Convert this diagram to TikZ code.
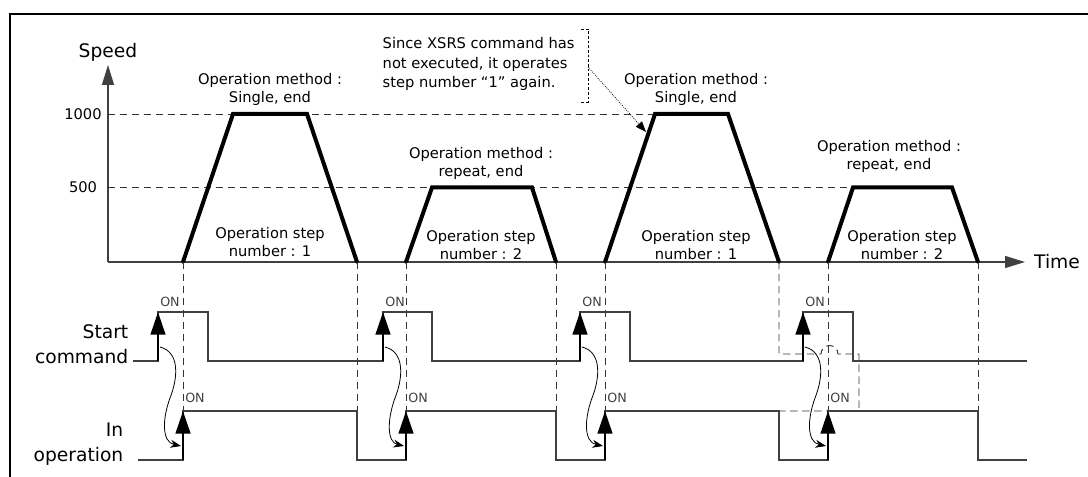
\documentclass[tikz,border=0pt]{standalone}
\usepackage{fontspec}
\setmainfont{DejaVu Sans}
\usetikzlibrary{arrows.meta}

\tikzset{
  axisline/.style={draw=black!75, line width=1.1pt, -{Triangle[length=15pt,width=9pt]}},
  guide/.style={draw=black!80, line width=0.7pt, dash pattern=on 5.5pt off 3.5pt},
  profile/.style={line width=3pt, line join=miter},
  signal/.style={draw=black!75, line width=0.9pt},
  riser/.style={line width=1.8pt, -{Triangle[length=17pt,width=11pt]}},
  cause/.style={line width=0.6pt, -{Stealth[length=8pt,width=6pt]}},
  small/.style={font=\fontsize{11}{13.5}\selectfont, align=center},
  big/.style={font=\fontsize{14}{19}\selectfont},
  onlabel/.style={font=\fontsize{9.5}{11}\selectfont, text=black!75, inner sep=0pt},
}

\begin{document}
\begin{tikzpicture}[x=0.75pt,y=0.75pt]
\useasboundingbox (0,0) rectangle (1088,-477);
\draw[line width=1pt] (10,-477) -- (10,-14) -- (1088,-14);

% speed profile
\coordinate (O) at (108,-262);
\draw[axisline] (O) -- (108,-65) node[big, above=-1pt] (speed) {Speed};
\draw[axisline] (O) -- (1025,-262) node[big, right=3pt] (time) {Time};
\draw[guide] (108,-114) -- (655,-114);
\draw[guide] (108,-187.5) -- (853,-187.5);
\node[small] (v1000) at (83,-114) {1000};
\node[small] (v500) at (83,-187.5) {500};
\draw[profile] (183,-262) -- (233,-114) -- (307,-114) -- (357,-262);
\draw[profile] (406,-262) -- (432,-187.5) -- (532,-187.5) -- (556,-262);
\draw[profile] (605,-262) -- (655,-114) -- (728,-114) -- (779,-262);
\draw[profile] (828,-262) -- (853,-187.5) -- (952,-187.5) -- (978,-262);
\node[small] (meth1) at (270,-89) {Operation method :\\Single, end};
\node[small] (meth2) at (481,-163.5) {Operation method :\\repeat, end};
\node[small] (meth3) at (696,-89) {Operation method :\\Single, end};
\node[small] (meth4) at (889,-156) {Operation method :\\repeat, end};
\node[small] (step1) at (270,-242) {Operation step\\number : 1};
\node[small] (step2) at (481,-245) {Operation step\\number : 2};
\node[small] (step3) at (696,-245) {Operation step\\number : 1};
\node[small] (step4) at (902,-245) {Operation step\\number : 2};

% note on the repeated step
\node[small, align=left, anchor=west, font=\fontsize{11}{14.6}\selectfont] (note) at (378,-64)
  {Since XSRS command has\\not executed, it operates\\step number “1” again.};
\draw[line width=0.6pt, dash pattern=on 2pt off 1.5pt] (581,-29) -- (588,-29) -- (588,-102) -- (581,-102);
\coordinate (brk) at (588,-67);
\coordinate (ramp) at (646,-132);
\draw[line width=0.6pt, densely dotted, -{Triangle[length=8pt,width=6pt]}] (brk) -- (ramp);

% guides down to the signals
\foreach \x in {183,357,406,556,605,779,828,978}
  \fill (\x,-262) circle (1.8);
\foreach \x in {183,357,406,556,605,828,978}
  \draw[guide] (\x,-262) -- (\x,-411);
\draw[guide] (779,-262) -- (779,-354) -- (821,-354) arc (180:0:8.5) -- (859,-354) -- (859,-411) -- (779,-411);

% signals
\node[big, align=right, anchor=east] (startcmd) at (133,-344) {Start\\command};
\node[big, align=right, anchor=east] (inop) at (128,-444) {In\\operation};
\draw[signal] (133,-361) -- (158,-361) -- (158,-312) -- (208,-312) -- (208,-361)
  -- (383,-361) -- (383,-312) -- (432,-312) -- (432,-361)
  -- (580,-361) -- (580,-312) -- (630,-312) -- (630,-361)
  -- (803,-361) -- (803,-312) -- (853,-312) -- (853,-361) -- (1027,-361);
\draw[signal] (138,-460) -- (183,-460) -- (183,-411) -- (357,-411) -- (357,-460)
  -- (406,-460) -- (406,-411) -- (556,-411) -- (556,-460)
  -- (605,-460) -- (605,-411) -- (779,-411) -- (779,-460)
  -- (828,-460) -- (828,-411) -- (978,-411) -- (978,-460) -- (1027,-460);
\foreach \s/\r in {158/183,383/406,580/605,803/828}{
  \draw[riser] (\s,-361) -- (\s,-312);
  \draw[riser] (\r,-460) -- (\r,-411);
  \node[onlabel] (on-s-\s) at (\s+12,-302) {ON};
  \node[onlabel] (on-r-\r) at (\r+12,-398) {ON};
  \draw[cause] (\s+2,-347) .. controls (\s+22,-352) and (\s+20,-378) .. (\s+12,-398)
    .. controls (\s+4,-420) and (\s+4,-442) .. (\r-2,-446);
}
\end{tikzpicture}
\end{document}
